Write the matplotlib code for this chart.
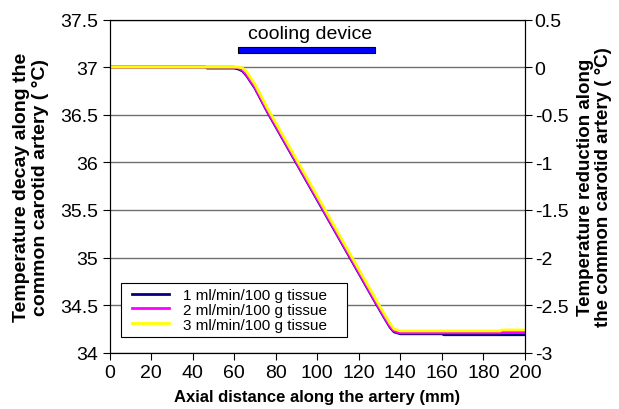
import numpy as np
import matplotlib.pyplot as plt
from matplotlib.patches import Rectangle

plt.rcParams['font.family'] = ['Liberation Sans', 'DejaVu Sans']

# axial position (mm) and temperature (C) for the three perfusion rates
dist = [0, 46, 47, 60, 62, 64, 66, 70, 76, 89, 102, 115, 128, 132, 135, 137, 140, 160, 161, 188, 189, 200]
flow1 = [37, 37, 36.99, 36.99, 36.98, 36.96, 36.91, 36.78, 36.53, 36.03, 35.53, 35.03, 34.53,
         34.38, 34.27, 34.22, 34.20, 34.20, 34.19, 34.19, 34.19, 34.19]
flow2 = [37, 37, 37, 37, 36.99, 36.97, 36.92, 36.79, 36.54, 36.04, 35.54, 35.04, 34.54,
         34.39, 34.28, 34.23, 34.21, 34.21, 34.21, 34.21, 34.22, 34.22]
flow3 = [37, 37, 37, 37, 37, 36.99, 36.95, 36.82, 36.57, 36.07, 35.57, 35.07, 34.57,
         34.42, 34.31, 34.25, 34.23, 34.23, 34.23, 34.23, 34.24, 34.24]
labels = ['1 ml/min/100 g tissue', '2 ml/min/100 g tissue', '3 ml/min/100 g tissue']
colors = ['#000080', '#ff00ff', '#ffff00']

# cooling device extent (mm)
dev_start, dev_end = 62, 128

fig = plt.figure(figsize=(6.19, 4.10), dpi=100)
ax = fig.add_axes([0.177, 0.137, 0.671, 0.813])

for y, lab, c in zip([flow1, flow2, flow3], labels, colors):
    ax.plot(dist, y, color=c, lw=2, label=lab)

ax.add_patch(Rectangle((dev_start, 37.145), dev_end - dev_start, 0.07,
                       facecolor='#0000ff', edgecolor='black', lw=0.8, zorder=3))
ax.text((dev_start + dev_end) / 2 + 1.5, 37.35, 'cooling device', ha='center', va='center', fontsize=14)

ax.set_xlim(0, 200)
ax.set_ylim(34, 37.5)
ax.set_xticks(np.arange(0, 201, 20))
ax.set_yticks(np.arange(34, 37.51, 0.5))
ax.set_yticklabels(['34', '34.5', '35', '35.5', '36', '36.5', '37', '37.5'])
ax.grid(axis='y', color='#707070', lw=1)
ax.set_axisbelow(True)
ax.tick_params(direction='out', length=5, labelsize=14, pad=3)

ax.set_xlabel('Axial distance along the artery (mm)', fontsize=12, fontweight='bold', labelpad=6)
ax.set_ylabel('Temperature decay along the\ncommon carotid artery ( \u00b0C)', fontsize=14,
              fontweight='bold', linespacing=1.15, labelpad=8)

ax2 = ax.twinx()
ax2.set_ylim(-3, 0.5)
ax2.set_yticks(np.arange(-3, 0.51, 0.5))
ax2.set_yticklabels(['-3', '-2.5', '-2', '-1.5', '-1', '-0.5', '0', '0.5'])
ax2.tick_params(direction='out', length=5, labelsize=14, pad=2)
ax2.set_ylabel('Temperature reduction along\nthe common carotid artery ( \u00b0C)', fontsize=13.5,
               fontweight='bold', linespacing=1.1, labelpad=6)

# legend box drawn separately so the padding can be wider than tall
ax.add_patch(Rectangle((0.028, 0.048), 0.544, 0.162, transform=ax.transAxes,
                       facecolor='white', edgecolor='black', lw=0.8, zorder=4))
leg = ax.legend(loc='center left', bbox_to_anchor=(0.055, 0.129), fontsize=11, frameon=False,
                handlelength=2.4, handletextpad=0.9, borderaxespad=0, labelspacing=0.05,
                borderpad=0)
leg.set_zorder(5)

fig.savefig('out.png', dpi=100)
